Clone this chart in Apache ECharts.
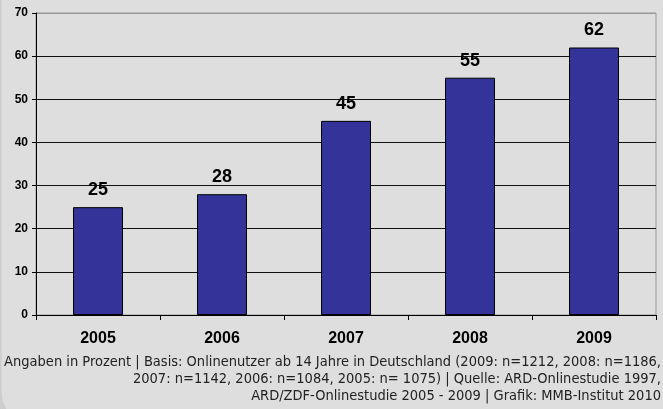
<!DOCTYPE html>
<html><head><meta charset="utf-8">
<script src="https://cdn.jsdelivr.net/npm/echarts@6/dist/echarts.min.js"></script>
<style>html,body{margin:0;padding:0;background:#cdcdcd;}#c{width:663px;height:409px;}</style>
</head><body><div id="c"></div>
<script>
const categories = ['2005', '2006', '2007', '2008', '2009'];
const values = [25, 28, 45, 55, 62];
const yTicks = [0, 10, 20, 30, 40, 50, 60, 70];
const footer = [
  'Angaben in Prozent | Basis: Onlinenutzer ab 14 Jahre in Deutschland (2009: n=1212, 2008: n=1186,',
  '2007: n=1142, 2006: n=1084, 2005: n= 1075) | Quelle: ARD-Onlinestudie 1997,',
  'ARD/ZDF-Onlinestudie 2005 - 2009 | Grafik: MMB-Institut 2010'
];
const chart = echarts.init(document.getElementById('c'), null, {renderer: 'canvas'});
chart.setOption({
  animation: false,
  backgroundColor: '#cdcdcd',
  graphic: [
    {type: 'rect', z: -10, silent: true, shape: {x: 1.5, y: -60, width: 700, height: 490, r: 40}, style: {fill: '#dedede'}},
    {type: 'text', x: 661, y: 354, style: {text: footer.join('\n'), fill: '#222', font: "14.5px 'DejaVu Sans Condensed', sans-serif", align: 'right', lineHeight: 17}}
  ],
  grid: {left: 36, right: 7, top: 13, bottom: 94, show: true, borderColor: '#999', borderWidth: 1, backgroundColor: 'transparent'},
  xAxis: {
    type: 'category', data: categories,
    axisLine: {lineStyle: {color: '#000', width: 1}},
    axisTick: {show: true, length: 5, lineStyle: {color: '#000'}},
    axisLabel: {color: '#000', fontFamily: 'Liberation Sans', fontWeight: 'bold', fontSize: 16, margin: 16}
  },
  yAxis: {
    type: 'value', min: yTicks[0], max: yTicks[yTicks.length - 1], interval: 10,
    axisLine: {show: true, lineStyle: {color: '#000', width: 1}},
    axisTick: {show: true, length: 4, lineStyle: {color: '#000'}},
    axisLabel: {color: '#000', fontFamily: 'Liberation Sans', fontWeight: 'bold', fontSize: 12, margin: 8},
    splitLine: {show: true, lineStyle: {color: ['#111', '#111', '#111', '#111', '#111', '#111', '#111', '#999'], width: 1}}
  },
  series: [{
    type: 'bar', data: values, barWidth: 50,
    itemStyle: {color: '#333399', borderColor: '#000', borderWidth: 1},
    label: {show: true, position: 'top', distance: 8, color: '#000', fontFamily: 'Liberation Sans', fontWeight: 'bold', fontSize: 18}
  }]
});
</script></body></html>
